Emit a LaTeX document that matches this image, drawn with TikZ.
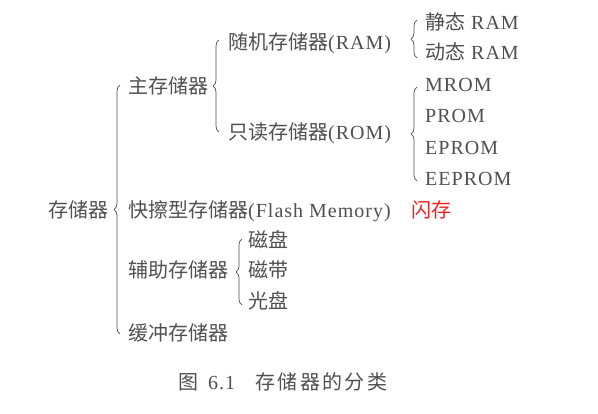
\documentclass[tikz,border=0pt]{standalone}
\usepackage{fontspec}
\setmainfont[LetterSpace=5]{Liberation Serif}
\newfontfamily\cjk{Noto Sans CJK SC}
\newfontfamily\cjkwide[LetterSpace=12]{Noto Sans CJK SC}
\usetikzlibrary{decorations.pathreplacing, calc, positioning}

\definecolor{inkgray}{RGB}{80,80,80}
\definecolor{markred}{RGB}{235,35,35}
\newcommand{\zh}[1]{{\cjk #1}}

\begin{document}
\begin{tikzpicture}[
    x=1pt, y=1pt,
    % --- BASE STYLES ---
    item/.style={anchor=west, inner sep=0pt, text height=16pt, text depth=1pt, font=\fontsize{20}{22}\selectfont, text=inkgray},
    note/.style={item, text=markred},
    caption/.style={item},
    bracket/.style={draw=inkgray, line width=0.7pt, decorate, decoration={brace, amplitude=6pt, aspect=0.5}}
]
\useasboundingbox[fill=white] (0,0) rectangle (598,413);

% ==========================================
% ROOT AND FIRST LEVEL
% ==========================================
\node[item] (root) at (48,203) {\zh{存储器}};
\node[item] (main) at (128,327) {\zh{主存储器}};
\node[item] (flash) at (128,203) {\zh{快擦型存储器}(Flash Memory)};
\node[note, right=20pt of flash] (shancun) {\zh{闪存}};
\node[item] (aux) at (128,143) {\zh{辅助存储器}};
\node[item] (buffer) at (128,80) {\zh{缓冲存储器}};

\draw[bracket] ($(buffer.west)+(-8,-1)$) -- ($(main.west)+(-8,1)$);

% ==========================================
% MAIN MEMORY
% ==========================================
\node[item] (ram) at (228,371) {\zh{随机存储器}(RAM)};
\node[item] (rom) at (228,281) {\zh{只读存储器}(ROM)};

\draw[bracket] ($(rom.west)+(-9,0)$) -- ($(ram.west)+(-9,2)$);

% RAM types
\node[item] (sram) at (425,391) {\zh{静态} RAM};
\node[item] (dram) at (425,361) {\zh{动态} RAM};

\draw[bracket] ($(dram.west)+(-8,-6)$) -- ($(sram.west)+(-8,2)$);

% ROM types
\foreach \n/\t/\y in {mrom/MROM/329, prom/PROM/298, eprom/EPROM/266, eeprom/EEPROM/235} {
    \node[item] (\n) at (425,\y) {\t};
}

\draw[bracket] ($(eeprom.west)+(-8,-3)$) -- ($(mrom.west)+(-8,-3)$);

% ==========================================
% AUXILIARY MEMORY
% ==========================================
\node[item] (disk) at (248,173) {\zh{磁盘}};
\node[item] (tape) at (248,143) {\zh{磁带}};
\node[item] (optical) at (248,112) {\zh{光盘}};

\draw[bracket] ($(optical.west)+(-6,-4)$) -- ($(disk.west)+(-6,1)$);

% Caption
\node[caption] (title) at (178,31) {{\cjkwide 图}\hspace{10pt}6.1\hspace{20pt}{\cjkwide 存储器的分类}};

\end{tikzpicture}
\end{document}
